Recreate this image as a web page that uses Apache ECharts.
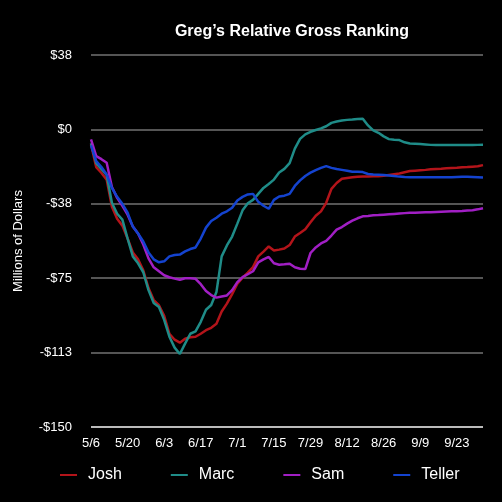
<!DOCTYPE html>
<html>
<head>
<meta charset="utf-8">
<script src="https://cdn.jsdelivr.net/npm/echarts@6/dist/echarts.min.js"></script>
<style>
  html, body { margin: 0; padding: 0; background: #000; }
  #chart { width: 502px; height: 502px; }
</style>
</head>
<body>
<div id="chart"></div>
<script>
// dates every 2 days, 5/6 .. 10/3
var dates = [
    '5/6','5/8','5/10','5/12','5/14','5/16','5/18','5/20','5/22','5/24','5/26','5/28','5/30',
    '6/1','6/3','6/5','6/7','6/9','6/11','6/13','6/15','6/17','6/19','6/21','6/23','6/25','6/27','6/29',
    '7/1','7/3','7/5','7/7','7/9','7/11','7/13','7/15','7/17','7/19','7/21','7/23','7/25','7/27','7/29','7/31',
    '8/2','8/4','8/6','8/8','8/10','8/12','8/14','8/16','8/18','8/20','8/22','8/24','8/26','8/28','8/30',
    '9/1','9/3','9/5','9/7','9/9','9/11','9/13','9/15','9/17','9/19','9/21','9/23','9/25','9/27','9/29',
    '10/1','10/3'
];

var josh = [
    -7.6, -19, -22, -25.3, -39, -45, -48.5, -55, -62, -65.5, -71, -80, -86, -88.6, -94, -103,
    -106, -107.5, -105.5, -104.8, -104.5, -103, -101.2, -100, -98, -91.8, -87.8, -83, -77.8, -74.7,
    -72.2, -69.4, -64, -61.6, -59, -61, -60.6, -60, -58.3, -54, -52.2, -50.3, -46.8, -43.5, -41.3,
    -37, -30, -27, -24.9, -24.5, -24.1, -23.9, -23.8, -23.7, -23.6, -23.6, -23.4, -23, -22.6, -22.2,
    -21.6, -21, -20.8, -20.6, -20.4, -20.1, -19.9, -19.8, -19.6, -19.4, -19.3, -19.1, -19, -18.8,
    -18.6, -18
];

var marc = [
    -7, -17, -20, -23, -37, -42.5, -45.5, -55, -64, -67.5, -72, -81, -87.5, -89.5, -96, -104.5,
    -110, -113.2, -108, -103, -101.8, -97, -90.9, -88.5, -82, -64, -58.5, -54, -47.5, -40.8,
    -37.2, -35.5, -32.5, -29.5, -27.5, -25.3, -21.7, -19.9, -17, -9.7, -4.8, -2.5, -1.2, -0.3, 0.5,
    1.6, 3.3, 4, 4.5, 4.8, 5, 5.3, 5.4, 2, -0.5, -1.7, -3.5, -4.9, -5.2, -5.4,
    -6.5, -7.1, -7.2, -7.4, -7.6, -7.8, -7.9, -7.9, -7.9, -7.9, -7.9, -7.9, -7.9, -7.9,
    -7.8, -7.7
];

var sam = [
    -5, -13.5, -15, -16.8, -29, -34.5, -38.5, -43, -49, -52.5, -58, -65, -69.5, -71.5, -73.5, -74.5,
    -75.2, -75.8, -75, -75, -75.3, -78, -81.5, -83.5, -84.8, -84.2, -83.7, -81, -77, -74.5,
    -73, -71.5, -67, -65.5, -64.3, -67.5, -68.2, -68, -67.7, -69.5, -70.2, -70.4, -62.3, -59.5, -57.5,
    -56.2, -53.5, -50.5, -49.2, -47.5, -46, -44.8, -43.8, -43.6, -43.3, -43.2, -43, -42.8, -42.6, -42.4,
    -42.2, -42, -42, -41.9, -41.8, -41.7, -41.6, -41.5, -41.4, -41.3, -41.2, -41.1, -40.9, -40.7,
    -40.3, -39.7
];

var teller = [
    -8, -16, -19, -22.7, -29.5, -34, -37.5, -42, -49, -52.5, -56.5, -62, -65.5, -67, -66.5, -64,
    -63.3, -63.1, -61.5, -60.3, -59.5, -55, -49.5, -46.2, -44.5, -42.5, -41.3, -39.5, -35.8, -34,
    -32.8, -32.5, -36.5, -38.5, -40, -35.5, -33.8, -33.4, -32.5, -28.5, -25.7, -23.5, -21.8, -20.5, -19.4,
    -18.5, -19.4, -20, -20.4, -20.8, -21.3, -21.4, -21.5, -22.5, -22.7, -22.8, -23, -23.2, -23.5, -23.8,
    -24, -24.1, -24.1, -24.1, -24.1, -24.1, -24.1, -24.1, -24.1, -24.1, -24, -23.9, -23.9, -24,
    -24.1, -24.2
];

var names = ['Josh', 'Marc', 'Sam', 'Teller'];
var colors = ['#b3141a', '#1f8c88', '#a11fc4', '#1443cf'];
var seriesData = [josh, marc, sam, teller];

var font = 'Liberation Sans, Arial, Helvetica, sans-serif';

var chart = echarts.init(document.getElementById('chart'));

var series = names.map(function (n, i) {
    return {
        name: n,
        type: 'line',
        data: seriesData[i],
        showSymbol: false,
        symbol: 'none',
        lineStyle: { width: 2.5, color: colors[i] },
        itemStyle: { color: colors[i] }
    };
});

chart.setOption({
    backgroundColor: '#000',
    animation: false,
    title: {
        text: 'Greg\u2019s Relative Gross Ranking',
        left: 287,
        top: 19,
        textAlign: 'center',
        textStyle: { color: '#fff', fontSize: 16, fontWeight: 'bold', fontFamily: font }
    },
    grid: { left: 91, right: 19, top: 55, bottom: 75 },
    legend: {
        data: names,
        left: 55,
        top: 462,
        icon: 'rect',
        itemWidth: 17,
        itemHeight: 2,
        itemGap: 49,
        textStyle: { color: '#fff', fontSize: 16, fontFamily: font, padding: [0, 0, 0, 6] }
    },
    xAxis: {
        type: 'category',
        data: dates,
        boundaryGap: false,
        axisLine: { show: false },
        axisTick: { show: false },
        axisLabel: { interval: 6, color: '#fff', fontSize: 13, fontFamily: font, margin: 10 }
    },
    yAxis: {
        type: 'value',
        min: -150,
        max: 37.5,
        interval: 37.5,
        name: 'Millions of Dollars',
        nameLocation: 'middle',
        nameRotate: 90,
        nameGap: 66,
        nameTextStyle: { color: '#fff', fontSize: 13, fontFamily: font },
        axisLine: { show: false },
        axisTick: { show: false },
        axisLabel: {
            color: '#fff',
            fontSize: 13,
            fontFamily: font,
            margin: 19,
            formatter: function (v) {
                return (v < 0 ? '-' : '') + '$' + Math.round(Math.abs(v));
            }
        },
        splitLine: {
            lineStyle: {
                width: 2,
                color: ['#bbbbbb', '#555555', '#555555', '#555555', '#555555', '#555555']
            }
        }
    },
    series: series
});
</script>
</body>
</html>
